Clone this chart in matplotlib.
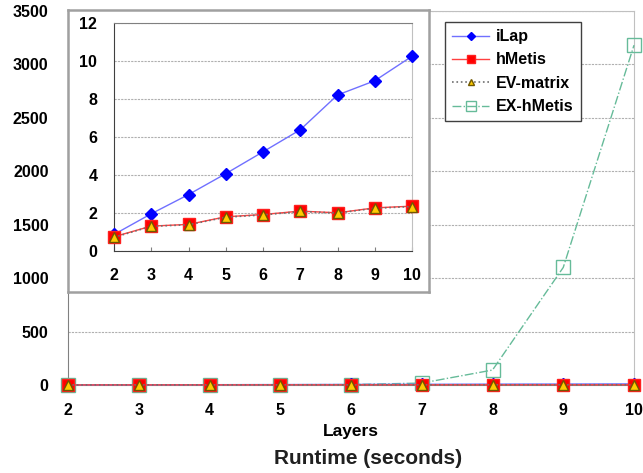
import matplotlib
matplotlib.use('Agg')
import matplotlib.pyplot as plt

plt.rcParams['font.family'] = ['Liberation Sans', 'DejaVu Sans']
plt.rcParams['font.weight'] = 'bold'

layers = [2, 3, 4, 5, 6, 7, 8, 9, 10]
ilap = [0.87, 1.96, 2.97, 4.07, 5.22, 6.38, 8.21, 8.96, 10.25]
hmetis = [0.75, 1.31, 1.40, 1.80, 1.92, 2.10, 2.01, 2.27, 2.36]
ev_matrix = [0.72, 1.30, 1.38, 1.78, 1.90, 2.08, 2.00, 2.25, 2.34]
ex_hmetis = [0.5, 1, 1.5, 2.5, 4, 18, 140, 1100, 3180]

main_yticks = [0, 500, 1000, 1500, 2000, 2500, 3000, 3500]
inset_yticks = [0, 2, 4, 6, 8, 10, 12]

styles = {
    'iLap': dict(color='#7070ff', marker='D', markersize=6.5, markerfacecolor='#0000ff',
                 markeredgecolor='#0000ff', linestyle='-', linewidth=1),
    'hMetis': dict(color='#ff4040', marker='s', markersize=8.5, markerfacecolor='#ff0000',
                   markeredgecolor='#ff2020', linestyle='-', linewidth=1),
    'EV-matrix': dict(color='#707070', marker='^', markersize=7, markerfacecolor='#ffcc00',
                      markeredgecolor='#705800', linestyle=':', linewidth=1.2),
    'EX-hMetis': dict(color='#66bb99', marker='s', markersize=10, markerfacecolor='none',
                      markeredgecolor='#66bb99', linestyle='-.', linewidth=1),
}


def draw_series(ax, with_ex):
    if with_ex:
        ax.plot(layers, ex_hmetis, label='EX-hMetis', clip_on=False, zorder=3, **styles['EX-hMetis'])
    ax.plot(layers, ilap, label='iLap', clip_on=False, zorder=4, **styles['iLap'])
    ax.plot(layers, hmetis, label='hMetis', clip_on=False, zorder=5, **styles['hMetis'])
    ax.plot(layers, ev_matrix, label='EV-matrix', clip_on=False, zorder=6, **styles['EV-matrix'])


fig = plt.figure(figsize=(6.43, 4.73), dpi=100)

# main axes
ax = fig.add_axes([68 / 643, 1 - 385 / 473, 566 / 643, 374 / 473])
draw_series(ax, True)
ax.set_xlim(2, 10)
ax.set_ylim(0, 3500)
ax.set_xticks(layers)
ax.set_yticks(main_yticks)
ax.tick_params(axis='both', length=0, labelsize=11.5)
ax.tick_params(axis='x', pad=13)
ax.tick_params(axis='y', pad=14)
ax.yaxis.grid(True, linestyle=(0, (2, 1)), color='#b0b0b0', linewidth=0.8)
ax.set_axisbelow(True)
ax.spines['left'].set_color('#808080')
ax.spines['bottom'].set_color('#808080')
ax.spines['top'].set_color('#c0c0c0')
ax.spines['right'].set_color('#c0c0c0')
ax.set_xlabel('Layers', fontsize=12.5, fontweight='bold', labelpad=4)

handles, labels = ax.get_legend_handles_labels()
order = ['iLap', 'hMetis', 'EV-matrix', 'EX-hMetis']
hmap = dict(zip(labels, handles))
leg = fig.legend([hmap[k] for k in order], order, loc='upper left',
                 bbox_to_anchor=(445 / 643, 1 - 22 / 473), borderaxespad=0, fancybox=False,
                 edgecolor='#404040', framealpha=1, prop={'size': 11.5, 'weight': 'bold'},
                 handlelength=2.3, handletextpad=0.45, borderpad=0.45, labelspacing=0.52,
                 markerscale=0.7)
leg.get_frame().set_linewidth(1)

# inset frame
frame = fig.add_axes([68 / 643, 1 - 292 / 473, 361 / 643, 282 / 473])
frame.set_xticks([])
frame.set_yticks([])
frame.set_facecolor('white')
for s in frame.spines.values():
    s.set_color('#a0a0a0')
    s.set_linewidth(1.8)
frame.set_zorder(5)

# inset axes
ins = fig.add_axes([114 / 643, 1 - 251 / 473, 298 / 643, 228 / 473])
ins.set_zorder(6)
draw_series(ins, False)
ins.set_xlim(2, 10)
ins.set_ylim(0, 12)
ins.set_xticks(layers)
ins.set_yticks(inset_yticks)
ins.tick_params(axis='both', labelsize=11.5, direction='in', length=3, color='#808080')
ins.tick_params(axis='x', pad=12)
ins.tick_params(axis='y', pad=12, length=0)
ins.yaxis.grid(True, linestyle=(0, (2, 1)), color='#b0b0b0', linewidth=0.8)
ins.set_axisbelow(True)
ins.spines['left'].set_color('#404040')
ins.spines['bottom'].set_color('#404040')
ins.spines['top'].set_color('#808080')
ins.spines['right'].set_color('#c0c0c0')

fig.text(368 / 643, 1 - 458 / 473, 'Runtime (seconds)', ha='center', va='center',
         fontsize=15, fontweight='bold', color='#202020')

fig.savefig('out.png', dpi=100)
